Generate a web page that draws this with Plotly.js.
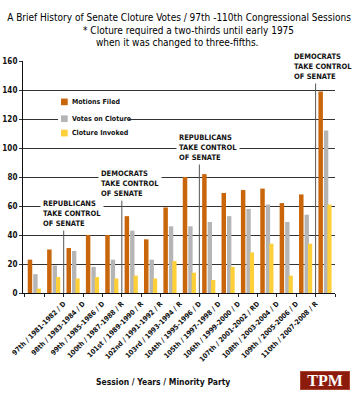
<!DOCTYPE html>
<html>
<head>
<meta charset="utf-8">
<script src="https://cdn.plot.ly/plotly-3.0.1.min.js"></script>
<style>html,body{margin:0;padding:0;background:#fff;}#chart{width:357px;height:395px;}</style>
</head>
<body>
<div id="chart"></div>
<script>
// ---- data ----
const seriesNames = ["Motions Filed", "Votes on Cloture", "Cloture Invoked"];
const motionsFiled   = [23, 30, 31, 40, 40, 53, 37, 59, 80, 82, 69, 71, 72, 62, 68, 139];
const votesOnCloture = [13, 19, 29, 18, 23, 43, 23, 46, 46, 49, 53, 58, 61, 49, 54, 112];
const clotureInvoked = [3, 11, 10, 11, 10, 12, 10, 22, 14, 9, 18, 28, 34, 12, 34, 61];
const tickLabels = ["97th / 1981-1982 / D", "98th / 1983-1984 / D", "99th / 1985-1986 / D",
  "100th / 1987-1988 / R", "101st / 1989-1990 / R", "102nd / 1991-1992 / R", "103rd / 1993-1994 / R",
  "104th / 1995-1996 / D", "105th / 1997-1998 / D", "106th / 1999-2000 / D", "107th / 2001-2002 / RD",
  "108th / 2003-2004 / D", "109th / 2005-2006 / D", "110th / 2007-2008 / R"];
const yTicks = [0, 20, 40, 60, 80, 100, 120, 140, 160];

// ---- styling ----
const NARROW = "'DejaVu Sans Condensed', 'Liberation Sans Narrow', 'Arial Narrow', sans-serif";
const colors = ["#c9660b", "#b5b5b5", "#fdcf38"];
const offsets = [-0.356, -0.072, 0.104];
const widths = [0.232, 0.225, 0.22];
const series = [motionsFiled, votesOnCloture, clotureInvoked];
const xIdx = motionsFiled.map((_, i) => i);

const traces = series.map((vals, s) => ({
  type: 'bar', name: seriesNames[s], x: xIdx, y: vals,
  offset: offsets[s], width: widths[s],
  marker: {color: colors[s], line: {width: 0}},
  showlegend: false, hovertemplate: seriesNames[s] + ': %{y}<extra></extra>'
}));

// tick marks on every group boundary, labels on 14 of them as in the original
const nB = motionsFiled.length + 1;
const tickVals = [], tickText = [];
for (let j = 0; j < nB; j++) {
  tickVals.push(j - 0.5);
  const li = j - 2;
  tickText.push(li >= 0 && li < tickLabels.length ? tickLabels[li] : '');
}

const L = 23, R = 22, T = 61, B = 102, W = 357, H = 395;
const pw = W - L - R, ph = H - T - B;
const px = p => (p - L) / pw;
const py = p => (H - B - p) / ph;

const annFont = {family: NARROW, size: 7.5, color: '#111', weight: 'bold'};
function eventAnn(text, cx, cy) {
  return {text: text, xref: 'paper', yref: 'paper', x: px(cx), y: py(cy), xanchor: 'center', yanchor: 'middle',
    showarrow: false, align: 'left', bgcolor: '#ffffff', borderpad: 2, font: annFont};
}

const legendRows = [131.8, 120.2, 110.3];
const shapes = [
  // white break behind legend
  {type: 'rect', xref: 'paper', yref: 'y', x0: px(58), x1: px(129), y0: 117, y1: 123,
   fillcolor: '#ffffff', line: {width: 0}, layer: 'above'},
  // event lines
  {type: 'line', xref: 'x', yref: 'y', x0: 1.5, x1: 1.5, y0: 0, y1: 45.5, line: {color: '#555', width: 1}},
  {type: 'line', xref: 'x', yref: 'y', x0: 4.5, x1: 4.5, y0: 0, y1: 64, line: {color: '#555', width: 1}},
  {type: 'line', xref: 'x', yref: 'y', x0: 8.5, x1: 8.5, y0: 0, y1: 89, line: {color: '#555', width: 1}},
  {type: 'line', xref: 'x', yref: 'y', x0: 14.5, x1: 14.5, y0: 0, y1: 145, line: {color: '#555', width: 1}}
];
legendRows.forEach((yv, s) => shapes.push({type: 'rect', xref: 'paper', yref: 'y',
  x0: px(61), x1: px(67.7), y0: yv - 2.3, y1: yv + 2.3, fillcolor: colors[s], line: {width: 0}, layer: 'above'}));

const annotations = [
  {text: '* Cloture required a two-thirds until early 1975', xref: 'paper', yref: 'paper',
   x: px(188), y: py(30), xanchor: 'center', yanchor: 'middle', showarrow: false,
   font: {family: NARROW, size: 10, color: '#000'}},
  {text: 'when it was changed to three-fifths.', xref: 'paper', yref: 'paper',
   x: px(177), y: py(43), xanchor: 'center', yanchor: 'middle', showarrow: false,
   font: {family: NARROW, size: 10, color: '#000'}},
  eventAnn('REPUBLICANS<br>TAKE CONTROL<br>OF SENATE', 72, 213.3),
  eventAnn('DEMOCRATS<br>TAKE CONTROL<br>OF SENATE', 130, 183.5),
  eventAnn('REPUBLICANS<br>TAKE CONTROL<br>OF SENATE', 207.5, 147.7),
  eventAnn('DEMOCRATS<br>TAKE CONTROL<br>OF SENATE', 323, 66.3),
  {text: 'Session / Years / Minority Party', xref: 'paper', yref: 'paper', x: px(162.5), y: py(382),
   xanchor: 'center', yanchor: 'middle', showarrow: false,
   font: {family: NARROW, size: 8.5, color: '#111', weight: 'bold'}},
  {text: 'TPM', xref: 'paper', yref: 'paper', x: px(325), y: py(380), xanchor: 'center', yanchor: 'middle',
   showarrow: false, width: 48, height: 17, bgcolor: '#8c1b0b', bordercolor: '#a8442f', borderwidth: 1, borderpad: 0,
   font: {family: "'Liberation Serif', 'DejaVu Serif', serif", size: 16, color: '#ffffff', weight: 'bold'}}
];
seriesNames.forEach((n, s) => annotations.push({text: n, xref: 'paper', yref: 'y', x: px(69.5), y: legendRows[s],
  xanchor: 'left', yanchor: 'middle', showarrow: false, font: {family: NARROW, size: 7, color: '#111', weight: 'bold'}}));

const layout = {
  width: W, height: H,
  margin: {l: L, r: R, t: T, b: B, pad: 0},
  paper_bgcolor: '#ffffff', plot_bgcolor: '#ffffff',
  barmode: 'overlay',
  title: {text: 'A Brief History of Senate Cloture Votes / 97th -110th Congressional Sessions',
    x: 0.5, xref: 'paper', xanchor: 'center', y: 1 - 17 / H, yanchor: 'middle', automargin: false,
    font: {family: NARROW, size: 10, color: '#000'}},
  xaxis: {range: [-0.6, 15.5], tickmode: 'array', tickvals: tickVals, ticktext: tickText,
    tickangle: -45, ticks: 'outside', ticklen: 3, tickcolor: '#222', tickwidth: 1,
    showline: true, linecolor: '#111', linewidth: 1, showgrid: false, zeroline: false,
    tickfont: {family: NARROW, size: 7, color: '#111', weight: 'bold'}, fixedrange: true},
  yaxis: {range: [0, 160], tickmode: 'array', tickvals: yTicks, ticks: 'outside', ticklen: 3,
    tickcolor: '#333', showline: true, linecolor: '#111', linewidth: 1,
    showgrid: true, gridcolor: '#333', gridwidth: 1, zeroline: false,
    tickfont: {family: NARROW, size: 8, color: '#111', weight: 'bold'}, fixedrange: true},
  shapes: shapes,
  annotations: annotations
};

Plotly.newPlot('chart', traces, layout, {staticPlot: true, displayModeBar: false});
</script>
</body>
</html>
